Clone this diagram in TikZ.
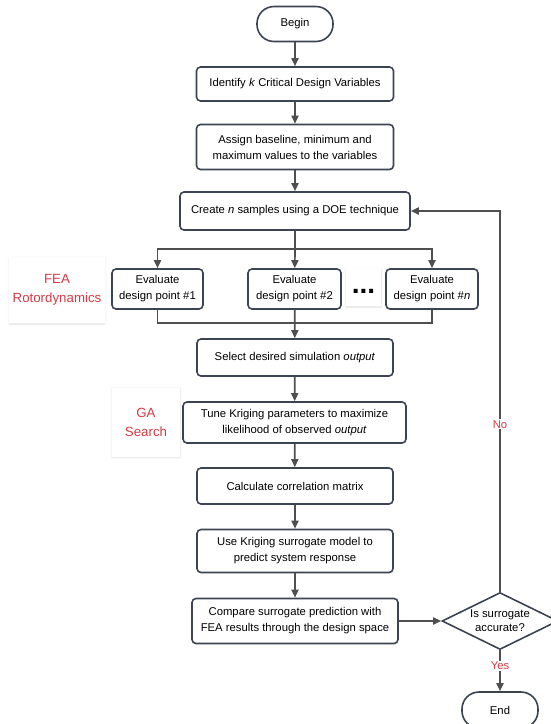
\documentclass[tikz,border=0pt]{standalone}
\usepackage{fontspec}
\setmainfont{Liberation Sans}
\usetikzlibrary{arrows.meta,positioning,shapes.geometric,shadows.blur}
\definecolor{Edge}{HTML}{3C4451}
\definecolor{Wire}{HTML}{4F4F4F}
\definecolor{Alert}{HTML}{D83A45}
\tikzset{
  stepbox/.style={draw=Edge, line width=1.6pt, rounded corners=4pt, fill=white,
    align=center, inner sep=2pt, font=\fontsize{11.3}{16}\selectfont},
  termbox/.style={stepbox, rounded corners=17pt},
  flow/.style={-{Triangle[length=8pt,width=7pt]}, line width=1.7pt, color=Wire},
  wire/.style={line width=1.7pt, color=Wire},
}
\begin{document}
\begin{tikzpicture}[x=1pt, y=-1pt,
  tagbox/.style={fill=white, align=center, text=Alert,
    font=\fontsize{13.3}{19}\selectfont,
    blur shadow={shadow blur steps=6, shadow xshift=0pt, shadow yshift=-1pt, shadow opacity=12}},
  ask/.style={text=Alert, fill=white, inner sep=1pt, font=\fontsize{11.3}{14}\selectfont},
]
  \useasboundingbox (0,0) rectangle (550,724);

  \node[termbox, minimum width=76, minimum height=35] (begin) at (295,24) {Begin};
  \node[stepbox, minimum width=197, minimum height=34] (ident) at (295,84)
    {Identify \textit{k} Critical Design Variables};
  \node[stepbox, minimum width=197, minimum height=45] (assign) at (295,147)
    {Assign baseline, minimum and\\maximum values to the variables};
  \node[stepbox, minimum width=230, minimum height=38] (create) at (295,211)
    {Create \textit{n} samples using a DOE technique};

  \node[stepbox, minimum width=91, minimum height=40] (eval1) at (157.5,289)
    {Evaluate\\design point \#1};
  \node[stepbox, minimum width=93, minimum height=40] (eval2) at (294.5,289)
    {Evaluate\\design point \#2};
  \node[stepbox, minimum width=92, minimum height=40] (evaln) at (432,289)
    {Evaluate\\design point \#\textit{n}};
  \node[tagbox, text=black, minimum width=35, inner sep=0pt,
    text height=25pt, text depth=13pt,
    font=\fontsize{28}{28}\bfseries] (dots) at (363.5,287) {...};

  \node[tagbox, minimum width=90, minimum height=66] (fea) at (57,290)
    {FEA\\Rotordynamics};
  \node[tagbox, minimum width=68, minimum height=69] (ga) at (146,422)
    {GA\\Search};

  \node[stepbox, minimum width=196, minimum height=37] (select) at (295,357.5)
    {Select desired simulation \textit{output}};
  \node[stepbox, minimum width=223, minimum height=41] (tune) at (294.5,422.5)
    {Tune Kriging parameters to maximize\\likelihood of observed \textit{output}};
  \node[stepbox, minimum width=196, minimum height=36] (corr) at (295,486)
    {Calculate correlation matrix};
  \node[stepbox, minimum width=196, minimum height=43] (model) at (295,551)
    {Use Kriging surrogate model to\\predict system response};
  \node[stepbox, minimum width=206, minimum height=45] (compare) at (295,621)
    {Compare surrogate prediction with\\FEA results through the design space};

  \node[diamond, draw=Edge, line width=1.6pt, fill=white, aspect=2, inner sep=0pt,
    minimum width=116, minimum height=57, align=center,
    font=\fontsize{11.3}{14}\selectfont] (check) at (500,621)
    {Is surrogate\\accurate?};
  \node[termbox, minimum width=76, minimum height=36] (finish) at (500,710) {End};

  \coordinate (split) at (295,249);
  \coordinate (merge) at (295,323);

  \draw[flow] (begin) -- (ident);
  \draw[flow] (ident) -- (assign);
  \draw[flow] (assign) -- (create);
  \draw[wire] (create) -- (split);
  \draw[flow] (split) -| (eval1);
  \draw[flow] (split) -- (eval2);
  \draw[flow] (split) -| (evaln);
  \draw[wire] (eval1) |- (merge);
  \draw[wire] (evaln) |- (merge);
  \draw[flow] (eval2) -- (select);
  \draw[flow] (select) -- (tune);
  \draw[flow] (tune) -- (corr);
  \draw[flow] (corr) -- (model);
  \draw[flow] (model) -- (compare);
  \draw[flow] (compare) -- (check);
  \draw[flow] (check) |- node[ask, pos=0.22] {No} (create);
  \draw[flow] (check) -- node[ask, pos=0.38] {Yes} (finish);
\end{tikzpicture}
\end{document}
